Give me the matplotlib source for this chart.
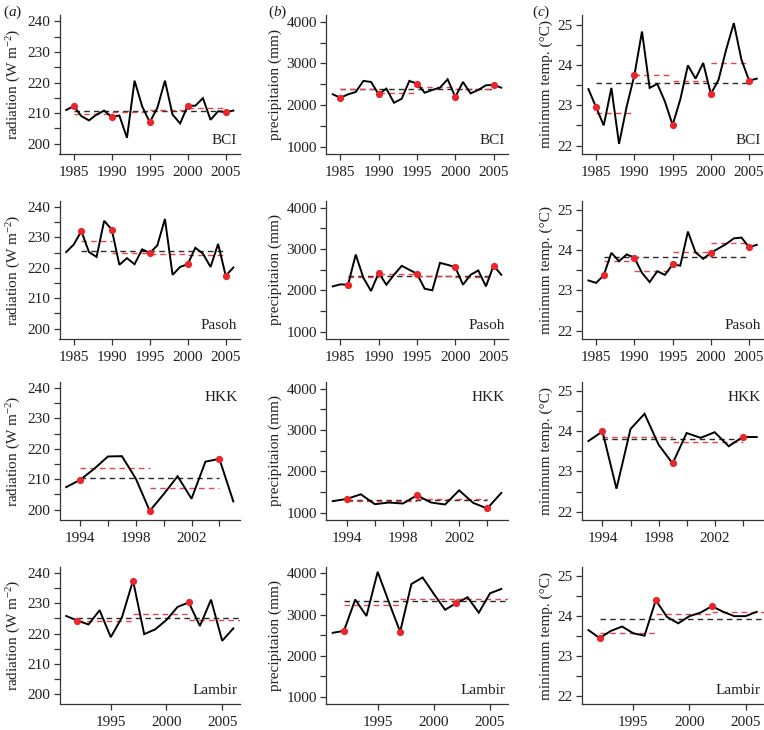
import matplotlib
matplotlib.use("Agg")
import matplotlib.pyplot as plt
import numpy as np

plt.rcParams['font.family'] = ['Liberation Serif', 'DejaVu Serif']
plt.rcParams['mathtext.fontset'] = 'custom'
plt.rcParams['mathtext.rm'] = 'Liberation Serif'
plt.rcParams['mathtext.it'] = 'Liberation Serif:italic'

# ---------------- data ----------------
sites = ['BCI', 'Pasoh', 'HKK', 'Lambir']
years_BCI = list(range(1984, 2007))
years_Pasoh = list(range(1984, 2007))
years_HKK = list(range(1993, 2006))
years_Lambir = list(range(1991, 2007))

dot_years_BCI = [1985, 1990, 1995, 2000, 2005]
dot_years_Pasoh = [1986, 1990, 1995, 2000, 2005]
dot_years_HKK = [1994, 1999, 2004]
dot_years_Lambir = [1992, 1997, 2002]

period_bounds_BCI = [1985, 1990, 1995, 2000, 2005]
period_bounds_Pasoh = [1986, 1990, 1995, 2000, 2005]
period_bounds_HKK = [1994, 1999, 2004]
period_bounds_Lambir = [1992, 1997, 2002, 2007]

# radiation (W m-2)
rad_BCI = [211.0, 212.3, 209.0, 207.6, 209.5, 210.8, 208.7, 209.2, 201.9, 220.6, 212.2, 207.0,
           211.7, 220.6, 209.5, 206.6, 212.4, 212.4, 214.9, 207.8, 210.6, 210.3, 210.8]
rad_Pasoh = [225.2, 227.7, 232.1, 225.2, 223.6, 235.5, 232.6, 221.0, 223.2, 221.2, 226.1, 224.9,
             227.4, 236.1, 217.7, 220.3, 221.2, 226.6, 224.7, 220.3, 227.9, 217.4, 220.1]
rad_HKK = [207.4, 209.8, 213.4, 217.5, 217.6, 210.2, 199.6, 205.1, 211.0, 203.6, 215.8, 216.7, 202.7]
rad_Lambir = [225.8, 224.3, 223.0, 227.7, 218.8, 225.3, 237.5, 219.8, 221.4, 224.5, 228.8, 230.3,
              222.5, 231.2, 217.6, 221.7]
rad_period_BCI = [209.8, 210.4, 211.0, 211.5]
rad_period_Pasoh = [229.0, 224.8, 224.5, 224.1]
rad_period_HKK = [213.8, 207.0]
rad_period_Lambir = [224.2, 226.4, 224.6]
rad_mean = {'BCI': 210.7, 'Pasoh': 225.7, 'HKK': 210.5, 'Lambir': 225.1}

# precipitation (mm)
prec_BCI = [2260, 2177, 2258, 2315, 2581, 2556, 2258, 2395, 2056, 2153, 2581, 2516,
            2298, 2363, 2419, 2621, 2194, 2556, 2282, 2363, 2476, 2484, 2419]
prec_Pasoh = [2096, 2144, 2136, 2864, 2304, 1984, 2424, 2136, 2376, 2592, 2496, 2400,
              2040, 2000, 2664, 2616, 2560, 2136, 2376, 2480, 2096, 2600, 2376]
prec_HKK = [1280, 1334, 1446, 1207, 1247, 1223, 1422, 1247, 1199, 1542, 1239, 1103, 1478]
prec_Lambir = [2560, 2608, 3368, 2968, 4040, 3304, 2584, 3744, 3904, 3504, 3120, 3280,
               3424, 3048, 3520, 3624]
prec_period_BCI = [2378, 2285, 2430, 2375]
prec_period_Pasoh = [2320, 2405, 2345, 2330]
prec_period_HKK = [1291, 1330]
prec_period_Lambir = [3230, 3371, 3380]
prec_mean = {'BCI': 2375, 'Pasoh': 2336, 'HKK': 1305, 'Lambir': 3330}

# minimum temperature (deg C)
temp_BCI = [23.40, 22.95, 22.50, 23.43, 22.04, 22.97, 23.74, 24.83, 23.43, 23.53, 23.09, 22.51,
            23.14, 23.99, 23.66, 24.05, 23.28, 23.63, 24.38, 25.04, 24.13, 23.61, 23.66]
temp_Pasoh = [23.25, 23.19, 23.38, 23.94, 23.73, 23.90, 23.82, 23.44, 23.21, 23.48, 23.39, 23.65,
              23.62, 24.47, 23.95, 23.79, 23.94, 24.05, 24.16, 24.30, 24.32, 24.08, 24.14]
temp_HKK = [23.76, 24.00, 22.57, 24.06, 24.44, 23.67, 23.20, 23.96, 23.84, 23.98, 23.63, 23.86, 23.86]
temp_Lambir = [23.65, 23.45, 23.63, 23.74, 23.57, 23.51, 24.40, 23.98, 23.82, 24.00, 24.09, 24.25,
               24.11, 24.00, 24.00, 24.11]
temp_period_BCI = [22.80, 23.76, 23.60, 24.06]
temp_period_Pasoh = [23.73, 23.48, 23.95, 24.18]
temp_period_HKK = [23.87, 23.73]
temp_period_Lambir = [23.57, 24.06, 24.10]
temp_mean = {'BCI': 23.55, 'Pasoh': 23.83, 'HKK': 23.80, 'Lambir': 23.92}

ylabels = [r'radiation (W m$^{-2}$)', 'precipitaion (mm)', 'minimum temp. (°C)']
panel_letters = ['a', 'b', 'c']

rad_ticks = [200, 210, 220, 230, 240]
prec_ticks = [1000, 2000, 3000, 4000]
temp_ticks = [22, 23, 24, 25]

xticks_main = [1985, 1990, 1995, 2000, 2005]
xticks_HKK = [1994, 1996, 1998, 2000, 2002, 2004]
xticklabels_HKK = ['1994', '', '1998', '', '2002', '']
xticks_Lambir = [1995, 2000, 2005]

# ---------------- organise ----------------
years = {'BCI': years_BCI, 'Pasoh': years_Pasoh, 'HKK': years_HKK, 'Lambir': years_Lambir}
dots = {'BCI': dot_years_BCI, 'Pasoh': dot_years_Pasoh, 'HKK': dot_years_HKK, 'Lambir': dot_years_Lambir}
bounds = {'BCI': period_bounds_BCI, 'Pasoh': period_bounds_Pasoh, 'HKK': period_bounds_HKK,
          'Lambir': period_bounds_Lambir}
series = [
    {'BCI': rad_BCI, 'Pasoh': rad_Pasoh, 'HKK': rad_HKK, 'Lambir': rad_Lambir},
    {'BCI': prec_BCI, 'Pasoh': prec_Pasoh, 'HKK': prec_HKK, 'Lambir': prec_Lambir},
    {'BCI': temp_BCI, 'Pasoh': temp_Pasoh, 'HKK': temp_HKK, 'Lambir': temp_Lambir},
]
periods = [
    {'BCI': rad_period_BCI, 'Pasoh': rad_period_Pasoh, 'HKK': rad_period_HKK, 'Lambir': rad_period_Lambir},
    {'BCI': prec_period_BCI, 'Pasoh': prec_period_Pasoh, 'HKK': prec_period_HKK, 'Lambir': prec_period_Lambir},
    {'BCI': temp_period_BCI, 'Pasoh': temp_period_Pasoh, 'HKK': temp_period_HKK, 'Lambir': temp_period_Lambir},
]
means = [rad_mean, prec_mean, temp_mean]
yticks = [rad_ticks, prec_ticks, temp_ticks]
yminor = [5, 500, 0.5]
ylims = [(196.6, 242.1), (825, 4165), (21.79, 25.24)]

# ---------------- figure ----------------
W, H = 764, 730
fig = plt.figure(figsize=(W / 100, H / 100), dpi=100)

col_left = [59.5, 326.0, 581.7]
col_right = [240.0, 508.0, 763.5]
row_top = [15.0, 200.7, 381.7, 566.7]
row_bot = [154.0, 339.0, 520.0, 704.3]

txt_col = '#231f20'
red = '#e8262b'
red_dash = '#e0474c'
blk_dash = '#2a2a2a'

for r, site in enumerate(sites):
    yrs = np.array(years[site])
    for c in range(3):
        ax = fig.add_axes([col_left[c] / W, 1 - row_bot[r] / H,
                           (col_right[c] - col_left[c]) / W, (row_bot[r] - row_top[r]) / H])
        vals = np.array(series[c][site])
        pad = 0.04 * (yrs[-1] - yrs[0])
        ax.set_xlim(yrs[0] - pad, yrs[-1] + pad)
        ax.set_ylim(*ylims[c])

        # overall mean (black dashed)
        b = bounds[site]
        ax.plot([b[0], b[-1]], [means[c][site]] * 2, color=blk_dash, lw=1.0,
                ls=(0, (4, 3)), zorder=2)
        # period means (red dashed)
        for i, v in enumerate(periods[c][site]):
            ax.plot([b[i], b[i + 1]], [v, v], color=red_dash, lw=1.0, ls=(0, (4, 3)), zorder=2)
        # series
        ax.plot(yrs, vals, color='black', lw=1.4, zorder=3, solid_joinstyle='miter')
        idx = [list(yrs).index(y) for y in dots[site]]
        ax.plot(yrs[idx], vals[idx], 'o', color=red, ms=5.2, mec='none', zorder=4)

        # axes style
        for s in ['top', 'right']:
            ax.spines[s].set_visible(False)
        for s in ['left', 'bottom']:
            ax.spines[s].set_linewidth(0.9)
            ax.spines[s].set_color('#333333')
        t = yticks[c]
        ax.set_yticks(t)
        ax.set_yticklabels([str(v) for v in t])
        ax.set_yticks(np.arange(t[0] + yminor[c], t[-1], 2 * yminor[c]), minor=True)
        if site == 'HKK':
            ax.set_xticks(xticks_HKK)
            ax.set_xticklabels(xticklabels_HKK)
        elif site == 'Lambir':
            ax.set_xticks(xticks_Lambir)
            ax.set_xticklabels([str(v) for v in xticks_Lambir])
        else:
            ax.set_xticks(xticks_main)
            ax.set_xticklabels([str(v) for v in xticks_main])
        ax.tick_params(axis='both', which='both', direction='out', length=4, width=0.9,
                       color='#333333', labelcolor=txt_col, labelsize=11)
        ax.tick_params(axis='y', which='both', pad=2.5)
        ax.tick_params(axis='x', which='both', pad=4.5)
        ax.set_ylabel(ylabels[c], fontsize=11, color=txt_col, labelpad=3)

        if site == 'HKK':
            ax.text(0.985, 0.93, site, transform=ax.transAxes, ha='right', va='top',
                    fontsize=11, color=txt_col)
        else:
            ax.text(0.985, 0.05, site, transform=ax.transAxes, ha='right', va='bottom',
                    fontsize=11, color=txt_col)

        if r == 0:
            lx = [3, 268, 532][c]
            fig.text(lx / W, 1 - 16 / H, r'($\mathit{%s}$)' % panel_letters[c], fontsize=11,
                     color=txt_col, ha='left', va='baseline')

fig.savefig('out.png', dpi=100)
